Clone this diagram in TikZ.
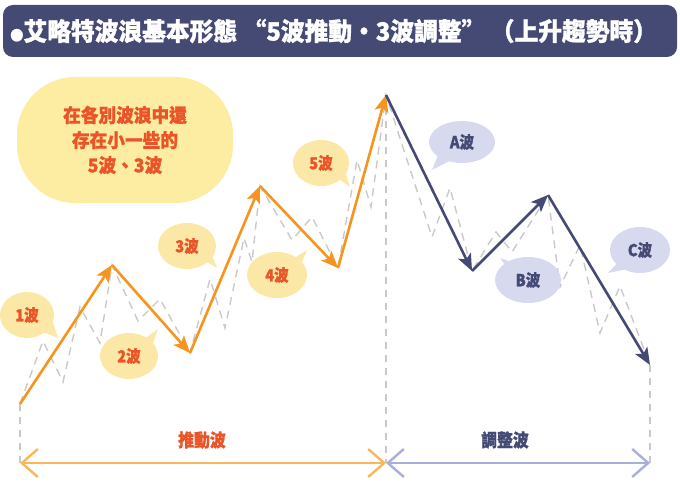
\documentclass[tikz,border=0pt]{standalone}
\usepackage{fontspec}
\newfontfamily\cjk{Noto Sans CJK TC}[BoldFeatures={FakeBold=1.2}]
\usetikzlibrary{arrows.meta,calc}
\definecolor{navy}{HTML}{454A75}
\definecolor{orng}{HTML}{F7941D}
\definecolor{lorng}{HTML}{F9B65A}
\definecolor{lpurp}{HTML}{A9AEDC}
\definecolor{bubY}{HTML}{FCE8A6}
\definecolor{bigY}{HTML}{FDEDA2}
\definecolor{bubP}{HTML}{D7DAEF}
\definecolor{txtR}{HTML}{EA5428}
\definecolor{gdash}{HTML}{C9C9C9}
\newcommand\sq[1]{\scalebox{0.88}[1]{#1}}
\tikzset{
  imp/.style={orng, line width=2.6pt, -{Stealth[length=17pt,width=14pt,inset=4pt]}},
  cor/.style={navy, line width=2.6pt, -{Stealth[length=17pt,width=14pt,inset=4pt]}},
  sub/.style={gdash, line width=1.4pt, dash pattern=on 8pt off 6pt},
  vline/.style={gdash, line width=1.2pt, dash pattern=on 7pt off 6pt},
  lblY/.style={font=\cjk\bfseries\fontsize{16.5}{16.5}\selectfont, text=txtR},
  lblP/.style={font=\cjk\bfseries\fontsize{16.5}{16.5}\selectfont, text=navy},
}
\begin{document}
\begin{tikzpicture}[x=1pt,y=-1pt]
\useasboundingbox (0,0) rectangle (680,486);
% title bar
\fill[navy,rounded corners=10pt] (3,5) rectangle (677,57);
\node[text=white, font=\cjk\bfseries\fontsize{25}{25}\selectfont, anchor=west, inner sep=0pt] (title) at (10,31)
  {\scalebox{0.95}[1]{{\fontsize{14}{14}\selectfont ●}艾略特波浪基本形態\ “5波推動・3波調整”\ （上升趨勢時）}};
% key points
\coordinate (p0) at (20,404);
\coordinate (p1) at (112,265);
\coordinate (p2) at (190,353);
\coordinate (p3) at (260,186);
\coordinate (p4) at (338,268);
\coordinate (p5) at (386,95);
\coordinate (pa) at (472,271);
\coordinate (pb) at (548,195);
\coordinate (pc) at (650,365);
\coordinate (b0) at (20,463);
\coordinate (b5) at (386,463);
\coordinate (bc) at (650,463);
% vertical dashed guides
\draw[vline] (p0) -- (b0);
\draw[vline] (p5) -- (b5);
\draw[vline] (pc) -- (bc);
% sub waves
\draw[sub] (p0) -- (43,341) -- (63,382) -- (80,307) -- (100,343) -- (p1)
  -- (138,321) -- (160,299) -- (p2)
  -- (210,279) -- (225,328) -- (244,238) -- (252,262) -- (p3)
  -- (292,240) -- (312,217) -- (p4)
  -- (357,160) -- (371,207) -- (p5)
  -- (432,237) -- (450,188) -- (pa)
  -- (496,232) -- (512,252) -- (pb)
  -- (560,287) -- (580,245) -- (600,333) -- (620,286) -- (pc);
% main waves
\draw[imp] (p0) -- (p1);
\draw[imp] (p1) -- (p2);
\draw[imp] (p2) -- (p3);
\draw[imp] (p3) -- (p4);
\draw[imp] (p4) -- (p5);
\draw[cor] (p5) -- (pa);
\draw[cor] (pa) -- (pb);
\draw[cor] (pb) -- (pc);
% big bubble
\fill[bigY,rounded corners=58pt] (17,77) rectangle (233,203);
\node[font=\cjk\bfseries\fontsize{19}{25}\selectfont, text=txtR, align=center] (note) at (125,140)
  {\scalebox{0.93}[1]{在各別波浪中還}\\\scalebox{0.93}[1]{存在小一些的}\\\scalebox{0.93}[1]{5波、3波}};
% small bubbles
\fill[bubY] (27,315) ellipse (27pt and 23pt);
\fill[bubY] (58,338) -- (38,330) -- (50,314) -- cycle;
\node[lblY] (w1) at (27,315) {\sq{1波}};
\fill[bubY] (129,356) ellipse (29pt and 23pt);
\fill[bubY] (158,329) -- (140,342) -- (150,352) -- cycle;
\node[lblY] (w2) at (129,356) {\sq{2波}};
\fill[bubY] (187,246) ellipse (29pt and 23pt);
\fill[bubY] (217,268) -- (200,258) -- (208,246) -- cycle;
\node[lblY] (w3) at (187,246) {\sq{3波}};
\fill[bubY] (277,275) ellipse (30pt and 23pt);
\fill[bubY] (307,250) -- (288,262) -- (298,272) -- cycle;
\node[lblY] (w4) at (277,275) {\sq{4波}};
\fill[bubY] (321,163) ellipse (28pt and 23pt);
\fill[bubY] (350,187) -- (333,175) -- (342,162) -- cycle;
\node[lblY] (w5) at (321,163) {\sq{5波}};
\fill[bubP] (462,142) ellipse (33pt and 21pt);
\fill[bubP] (432,170) -- (442,145) -- (455,158) -- cycle;
\node[lblP] (wa) at (462,142) {\sq{A波}};
\fill[bubP] (528,280) ellipse (33pt and 23pt);
\fill[bubP] (500,258) -- (510,272) -- (520,265) -- cycle;
\node[lblP] (wb) at (528,280) {\sq{B波}};
\fill[bubP] (640,250) ellipse (30pt and 23pt);
\fill[bubP] (608,273) -- (622,258) -- (632,268) -- cycle;
\node[lblP] (wc) at (640,250) {\sq{C波}};
% bottom span arrows
\draw[lorng, line width=2.4pt, {Straight Barb[length=16pt,width=28pt]}-{Straight Barb[length=16pt,width=28pt]}] (b0) -- (b5);
\draw[lpurp, line width=2.4pt, {Straight Barb[length=16pt,width=28pt]}-{Straight Barb[length=16pt,width=28pt]}] (b5) -- (bc);
\node[font=\cjk\bfseries\fontsize{18}{18}\selectfont, text=txtR] (imp) at (202,440) {\sq{推動波}};
\node[font=\cjk\bfseries\fontsize{18}{18}\selectfont, text=navy] (corr) at (505,440) {\sq{調整波}};
\end{tikzpicture}
\end{document}
